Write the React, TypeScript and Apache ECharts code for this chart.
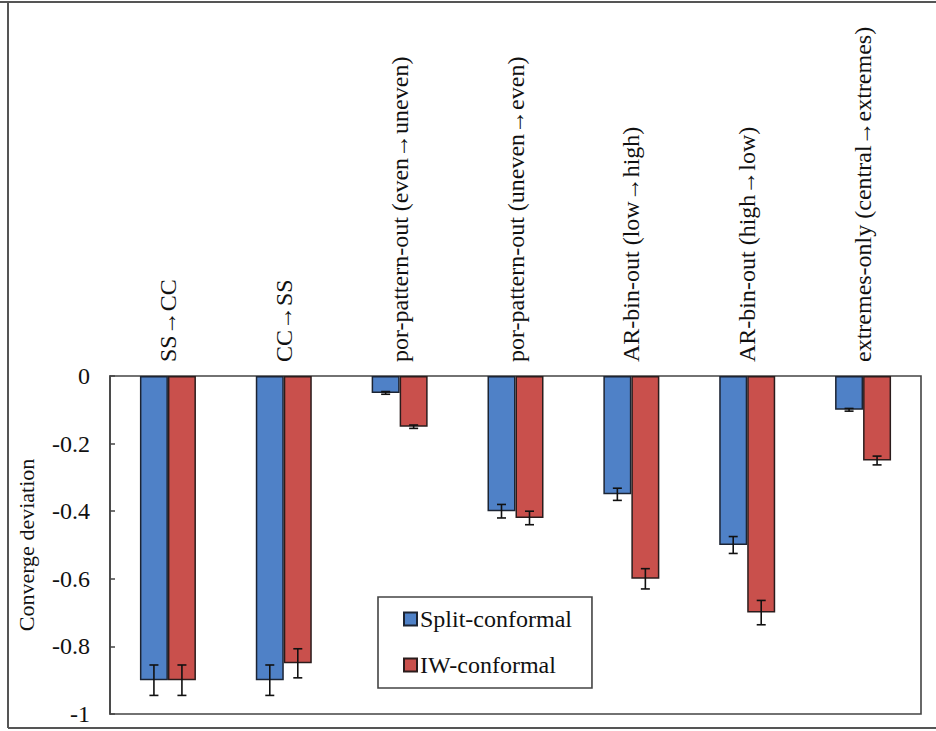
import React, { useEffect, useRef } from "react";
import * as echarts from "echarts";

const categories = [
  "SS→CC",
  "CC→SS",
  "por-pattern-out (even→uneven)",
  "por-pattern-out (uneven→even)",
  "AR-bin-out (low→high)",
  "AR-bin-out (high→low)",
  "extremes-only (central→extremes)",
];
const splitValues = [-0.9, -0.9, -0.05, -0.4, -0.35, -0.5, -0.1];
const iwValues = [-0.9, -0.85, -0.15, -0.42, -0.6, -0.7, -0.25];
const splitErr = [0.045, 0.045, 0.004, 0.02, 0.018, 0.025, 0.004];
const iwErr = [0.045, 0.043, 0.005, 0.02, 0.03, 0.036, 0.013];
const seriesNames = ["Split-conformal", "IW-conformal"];

const FONT = "'Liberation Serif', 'DejaVu Serif', serif";
const BAR_W = 28;

function errorSeries(values: number[], errs: number[], offset: number) {
  return {
    type: "custom",
    silent: true,
    z: 5,
    encode: { x: 0, y: 1 },
    data: values.map((v, i) => [i, v, errs[i]]),
    renderItem: (params: any, api: any) => {
      const i = api.value(0);
      const v = api.value(1);
      const e = api.value(2);
      const hi = api.coord([i, v + e]);
      const lo = api.coord([i, v - e]);
      const x = hi[0] + offset;
      const cap = 4.5;
      const style = { stroke: "#111", lineWidth: 1.6 };
      return {
        type: "group",
        children: [
          { type: "line", shape: { x1: x, y1: hi[1], x2: x, y2: lo[1] }, style },
          { type: "line", shape: { x1: x - cap, y1: hi[1], x2: x + cap, y2: hi[1] }, style },
          { type: "line", shape: { x1: x - cap, y1: lo[1], x2: x + cap, y2: lo[1] }, style },
        ],
      };
    },
  };
}

export default function App() {
  const ref = useRef<HTMLDivElement>(null);
  useEffect(() => {
    if (!ref.current) return;
    const chart = echarts.init(ref.current, undefined, { renderer: "svg" });
    chart.setOption({
      animation: false,
      backgroundColor: "#fff",
      textStyle: { fontFamily: FONT },
      grid: {
        left: 110,
        right: 15,
        top: 376,
        bottom: 17,
        show: true,
        borderColor: "#444",
        borderWidth: 1.6,
      },
      legend: {
        orient: "vertical",
        left: 378,
        top: 597,
        padding: [10, 20, 11, 25],
        itemGap: 22,
        itemWidth: 13,
        itemHeight: 13,
        icon: "rect",
        borderColor: "#444",
        borderWidth: 1.6,
        backgroundColor: "#fff",
        textStyle: { fontFamily: FONT, fontSize: 24, color: "#111", padding: [0, 0, 0, -2] },
        data: seriesNames,
      },
      xAxis: {
        type: "category",
        position: "top",
        data: categories,
        axisLine: { show: false },
        axisTick: { show: false },
        axisLabel: {
          rotate: 90,
          margin: 14,
          interval: 0,
          fontFamily: FONT,
          fontSize: 24,
          color: "#111",
        },
      },
      yAxis: {
        type: "value",
        min: -1,
        max: 0,
        interval: 0.2,
        name: "Converge deviation",
        nameLocation: "middle",
        nameGap: 73,
        nameTextStyle: { fontFamily: FONT, fontSize: 22, color: "#111" },
        axisLine: { show: true, lineStyle: { color: "#444", width: 1.6 } },
        axisTick: { show: true, inside: true, length: 5, lineStyle: { color: "#444", width: 1.5 } },
        splitLine: { show: false },
        axisLabel: {
          margin: 20,
          fontFamily: FONT,
          fontSize: 24,
          color: "#111",
          formatter: (v: number) => (Math.abs(v) < 1e-9 ? "0" : String(Math.round(v * 10) / 10)),
        },
      },
      series: [
        {
          name: seriesNames[0],
          type: "bar",
          data: splitValues,
          barWidth: BAR_W,
          barGap: "0%",
          itemStyle: { color: "#4f81c7", borderColor: "#1c2433", borderWidth: 1.5 },
        },
        {
          name: seriesNames[1],
          type: "bar",
          data: iwValues,
          barWidth: BAR_W,
          barGap: "0%",
          itemStyle: { color: "#c9504c", borderColor: "#2a1c1c", borderWidth: 1.5 },
        },
        errorSeries(splitValues, splitErr, -BAR_W / 2),
        errorSeries(iwValues, iwErr, BAR_W / 2),
      ],
      graphic: [
        { type: "line", shape: { x1: 0, y1: 2, x2: 936, y2: 2 }, style: { stroke: "#555", lineWidth: 2 } },
        { type: "line", shape: { x1: 8, y1: 2, x2: 8, y2: 728 }, style: { stroke: "#555", lineWidth: 2 } },
        { type: "line", shape: { x1: 8, y1: 728, x2: 936, y2: 728 }, style: { stroke: "#555", lineWidth: 2 } },
      ],
    });
    return () => chart.dispose();
  }, []);
  return (
    <div
      ref={ref}
      style={{ position: "fixed", left: 0, top: 0, width: 936, height: 731, background: "#fff" }}
    />
  );
}
